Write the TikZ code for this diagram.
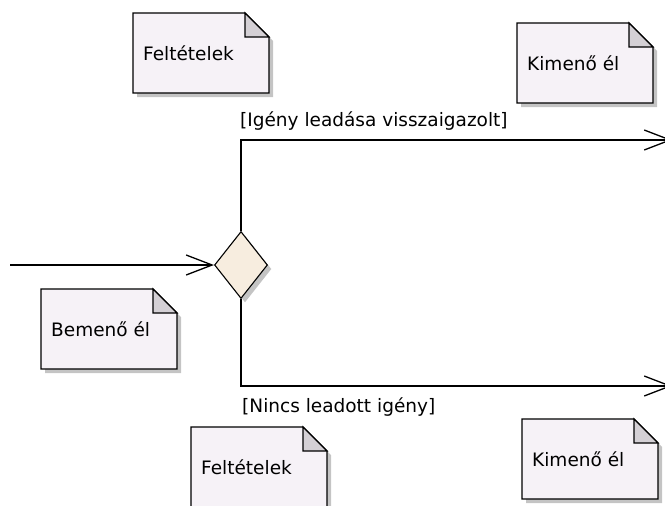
\documentclass[tikz,border=0pt]{standalone}
\usepackage{fontspec}
\setmainfont{DejaVu Sans}
\usetikzlibrary{positioning,shapes.geometric,shadows,arrows.meta}
\definecolor{notefill}{RGB}{246,242,247}
\definecolor{foldfill}{RGB}{212,208,213}
\definecolor{dontfill}{RGB}{247,237,223}
\definecolor{shadowgray}{RGB}{196,196,196}

% megjegyzes: nev, bal felso sarok x, y, szoveg
\newcommand{\megjegyzes}[4]{%
  \fill[noteshadow] (#2+4,#3+4) -- ++(112,0) -- ++(24,24) -- ++(0,56) -- ++(-136,0) -- cycle;
  \filldraw[notebody] (#2,#3) -- ++(112,0) -- ++(24,24) -- ++(0,56) -- ++(-136,0) -- cycle;
  \filldraw[notefold] (#2+112,#3) -- ++(0,24) -- ++(24,0) -- cycle;
  \node[notetext] (#1) at (#2+10,#3+40) {#4};
}

\begin{document}
\begin{tikzpicture}
[x=1pt, y=-1pt,
font=\fontsize{18.5}{22}\selectfont,
% The note styles are used to draw the comment boxes
noteshadow/.style={fill=shadowgray},
notebody/.style={draw, line width=1.2pt, line join=miter, fill=notefill},
notefold/.style={draw, line width=1.2pt, fill=foldfill},
notetext/.style={anchor=west, inner sep=0pt},
% The dont style is used to draw the decision node
dont/.style={diamond, draw, line width=1.1pt, fill=dontfill, minimum width=53pt, minimum height=67pt, inner sep=0pt,
  drop shadow={shadow xshift=4pt, shadow yshift=-4pt, fill=shadowgray, opacity=1}},
% The el style is used to draw the edges
el/.style={line width=1.3pt, -{Straight Barb[length=26pt, width=20pt, line width=1.3pt]}},
feltetel/.style={anchor=west, inner sep=0pt}
]
\useasboundingbox (0,0) rectangle (665,506);
% Draw notes
\megjegyzes{felt1}{133}{13}{Feltételek}
\megjegyzes{ki1n}{517}{23}{Kimenő él}
\megjegyzes{be1n}{41}{289}{Bemenő él}
\megjegyzes{felt2}{191}{427}{Feltételek}
\megjegyzes{ki2n}{522}{419}{Kimenő él}
% Draw decision
\node[dont] (dontes) at (241,265) {};
\coordinate (bemenet) at (10,265);
\coordinate (kimenet1) at (672,140);
\coordinate (kimenet2) at (672,386);
\draw[el] (bemenet) -- (dontes.west);
\draw[el] (dontes.north) |- (kimenet1);
\draw[el] (dontes.south) |- (kimenet2);
% Draw guards
\node[feltetel] (igen) at (240,121) {[Igény leadása visszaigazolt]};
\node[feltetel] (nem) at (242,407) {[Nincs leadott igény]};
\end{tikzpicture}
\end{document}
